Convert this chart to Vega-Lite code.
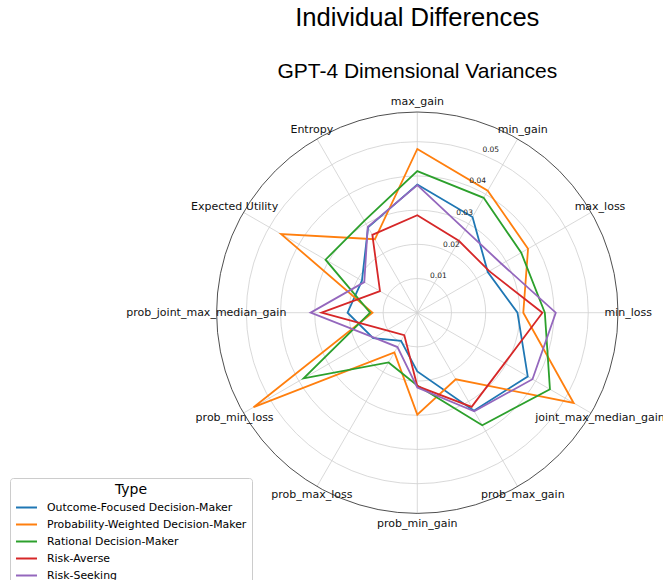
{
  "$schema": "https://vega.github.io/schema/vega-lite/v6.json",
  "width": 401.4,
  "height": 401.4,
  "autosize": {"type": "none"},
  "padding": {"left": 216.6, "top": 112, "right": 45, "bottom": 66.6},
  "background": "white",
  "title": {
    "text": "Individual Differences",
    "subtitle": "GPT-4 Dimensional Variances",
    "anchor": "middle",
    "frame": "group",
    "font": "Liberation Sans",
    "fontSize": 25.6,
    "fontWeight": "normal",
    "color": "black",
    "subtitleFont": "Liberation Sans",
    "subtitleFontSize": 21,
    "subtitleColor": "black",
    "subtitlePadding": 29,
    "offset": 14
  },
  "config": {"view": {"stroke": null}},
  "datasets": {
    "axes": [
      {"metric": "max_gain", "k": 0},
      {"metric": "min_gain", "k": 1},
      {"metric": "max_loss", "k": 2},
      {"metric": "min_loss", "k": 3},
      {"metric": "joint_max_median_gain", "k": 4},
      {"metric": "prob_max_gain", "k": 5},
      {"metric": "prob_min_gain", "k": 6},
      {"metric": "prob_max_loss", "k": 7},
      {"metric": "prob_min_loss", "k": 8},
      {"metric": "prob_joint_max_median_gain", "k": 9},
      {"metric": "Expected Utility", "k": 10},
      {"metric": "Entropy", "k": 11}
    ],
    "rings": [{"r": 0.01}, {"r": 0.02}, {"r": 0.03}, {"r": 0.04}, {"r": 0.05}],
    "ticks": [
      {"v": 0.01, "label": "0.01"},
      {"v": 0.02, "label": "0.02"},
      {"v": 0.03, "label": "0.03"},
      {"v": 0.04, "label": "0.04"},
      {"v": 0.05, "label": "0.05"}
    ],
    "scores": [
      {"Type": "Outcome-Focused Decision-Maker", "metric": "max_gain", "value": 0.0375},
      {"Type": "Outcome-Focused Decision-Maker", "metric": "min_gain", "value": 0.0323},
      {"Type": "Outcome-Focused Decision-Maker", "metric": "max_loss", "value": 0.0238},
      {"Type": "Outcome-Focused Decision-Maker", "metric": "min_loss", "value": 0.0293},
      {"Type": "Outcome-Focused Decision-Maker", "metric": "joint_max_median_gain", "value": 0.0373},
      {"Type": "Outcome-Focused Decision-Maker", "metric": "prob_max_gain", "value": 0.0331},
      {"Type": "Outcome-Focused Decision-Maker", "metric": "prob_min_gain", "value": 0.0172},
      {"Type": "Outcome-Focused Decision-Maker", "metric": "prob_max_loss", "value": 0.0095},
      {"Type": "Outcome-Focused Decision-Maker", "metric": "prob_min_loss", "value": 0.0149},
      {"Type": "Outcome-Focused Decision-Maker", "metric": "prob_joint_max_median_gain", "value": 0.0204},
      {"Type": "Outcome-Focused Decision-Maker", "metric": "Expected Utility", "value": 0.0187},
      {"Type": "Outcome-Focused Decision-Maker", "metric": "Entropy", "value": 0.0288},
      {"Type": "Probability-Weighted Decision-Maker", "metric": "max_gain", "value": 0.0479},
      {"Type": "Probability-Weighted Decision-Maker", "metric": "min_gain", "value": 0.0412},
      {"Type": "Probability-Weighted Decision-Maker", "metric": "max_loss", "value": 0.0374},
      {"Type": "Probability-Weighted Decision-Maker", "metric": "min_loss", "value": 0.031},
      {"Type": "Probability-Weighted Decision-Maker", "metric": "joint_max_median_gain", "value": 0.0528},
      {"Type": "Probability-Weighted Decision-Maker", "metric": "prob_max_gain", "value": 0.0225},
      {"Type": "Probability-Weighted Decision-Maker", "metric": "prob_min_gain", "value": 0.0298},
      {"Type": "Probability-Weighted Decision-Maker", "metric": "prob_max_loss", "value": 0.0134},
      {"Type": "Probability-Weighted Decision-Maker", "metric": "prob_min_loss", "value": 0.0553},
      {"Type": "Probability-Weighted Decision-Maker", "metric": "prob_joint_max_median_gain", "value": 0.0131},
      {"Type": "Probability-Weighted Decision-Maker", "metric": "Expected Utility", "value": 0.046},
      {"Type": "Probability-Weighted Decision-Maker", "metric": "Entropy", "value": 0.0248},
      {"Type": "Rational Decision-Maker", "metric": "max_gain", "value": 0.0414},
      {"Type": "Rational Decision-Maker", "metric": "min_gain", "value": 0.0388},
      {"Type": "Rational Decision-Maker", "metric": "max_loss", "value": 0.0351},
      {"Type": "Rational Decision-Maker", "metric": "min_loss", "value": 0.0373},
      {"Type": "Rational Decision-Maker", "metric": "joint_max_median_gain", "value": 0.0448},
      {"Type": "Rational Decision-Maker", "metric": "prob_max_gain", "value": 0.038},
      {"Type": "Rational Decision-Maker", "metric": "prob_min_gain", "value": 0.0213},
      {"Type": "Rational Decision-Maker", "metric": "prob_max_loss", "value": 0.0168},
      {"Type": "Rational Decision-Maker", "metric": "prob_min_loss", "value": 0.0384},
      {"Type": "Rational Decision-Maker", "metric": "prob_joint_max_median_gain", "value": 0.0138},
      {"Type": "Rational Decision-Maker", "metric": "Expected Utility", "value": 0.031},
      {"Type": "Rational Decision-Maker", "metric": "Entropy", "value": 0.031},
      {"Type": "Risk-Averse", "metric": "max_gain", "value": 0.0285},
      {"Type": "Risk-Averse", "metric": "min_gain", "value": 0.0243},
      {"Type": "Risk-Averse", "metric": "max_loss", "value": 0.0243},
      {"Type": "Risk-Averse", "metric": "min_loss", "value": 0.0366},
      {"Type": "Risk-Averse", "metric": "joint_max_median_gain", "value": 0.0295},
      {"Type": "Risk-Averse", "metric": "prob_max_gain", "value": 0.0318},
      {"Type": "Risk-Averse", "metric": "prob_min_gain", "value": 0.0215},
      {"Type": "Risk-Averse", "metric": "prob_max_loss", "value": 0.0076},
      {"Type": "Risk-Averse", "metric": "prob_min_loss", "value": 0.0103},
      {"Type": "Risk-Averse", "metric": "prob_joint_max_median_gain", "value": 0.028},
      {"Type": "Risk-Averse", "metric": "Expected Utility", "value": 0.0126},
      {"Type": "Risk-Averse", "metric": "Entropy", "value": 0.0263},
      {"Type": "Risk-Seeking", "metric": "max_gain", "value": 0.0373},
      {"Type": "Risk-Seeking", "metric": "min_gain", "value": 0.028},
      {"Type": "Risk-Seeking", "metric": "max_loss", "value": 0.0285},
      {"Type": "Risk-Seeking", "metric": "min_loss", "value": 0.0405},
      {"Type": "Risk-Seeking", "metric": "joint_max_median_gain", "value": 0.0389},
      {"Type": "Risk-Seeking", "metric": "prob_max_gain", "value": 0.0333},
      {"Type": "Risk-Seeking", "metric": "prob_min_gain", "value": 0.0219},
      {"Type": "Risk-Seeking", "metric": "prob_max_loss", "value": 0.0116},
      {"Type": "Risk-Seeking", "metric": "prob_min_loss", "value": 0.0146},
      {"Type": "Risk-Seeking", "metric": "prob_joint_max_median_gain", "value": 0.0312},
      {"Type": "Risk-Seeking", "metric": "Expected Utility", "value": 0.0179},
      {"Type": "Risk-Seeking", "metric": "Entropy", "value": 0.029}
    ]
  },
  "layer": [
    {
      "data": {"name": "rings"},
      "mark": {"type": "point", "shape": "circle", "filled": false, "stroke": "#cfcfcf", "strokeWidth": 0.8, "opacity": 1},
      "encoding": {
        "x": {"datum": 0, "type": "quantitative", "scale": {"domain": [-0.0587, 0.0587], "nice": false, "zero": false}, "axis": null},
        "y": {"datum": 0, "type": "quantitative", "scale": {"domain": [-0.0587, 0.0587], "nice": false, "zero": false}, "axis": null},
        "size": {"field": "r", "type": "quantitative", "legend": null, "scale": {"type": "pow", "exponent": 2, "domain": [0, 0.0587], "range": [0, 161122], "zero": true, "nice": false}}
      }
    },
    {
      "data": {"name": "axes"},
      "transform": [
        {"calculate": "datum.k * PI / 6", "as": "a"},
        {"calculate": "0.0587 * sin(datum.a)", "as": "sx"},
        {"calculate": "0.0587 * cos(datum.a)", "as": "sy"}
      ],
      "mark": {"type": "rule", "stroke": "#cfcfcf", "strokeWidth": 0.8},
      "encoding": {
        "x": {"field": "sx", "type": "quantitative"},
        "y": {"field": "sy", "type": "quantitative"},
        "x2": {"datum": 0},
        "y2": {"datum": 0}
      }
    },
    {
      "data": {"values": [{"r": 0.0587}]},
      "mark": {"type": "point", "shape": "circle", "filled": false, "stroke": "#222222", "strokeWidth": 0.8, "opacity": 1},
      "encoding": {
        "x": {"datum": 0, "type": "quantitative"},
        "y": {"datum": 0, "type": "quantitative"},
        "size": {"field": "r", "type": "quantitative", "legend": null}
      }
    },
    {
      "data": {"name": "scores"},
      "transform": [
        {"lookup": "metric", "from": {"data": {"name": "axes"}, "key": "metric", "fields": ["k"]}},
        {"calculate": "datum.k * PI / 6", "as": "a"},
        {"calculate": "datum.value * sin(datum.a)", "as": "px"},
        {"calculate": "datum.value * cos(datum.a)", "as": "py"}
      ],
      "mark": {"type": "line", "interpolate": "linear-closed", "strokeWidth": 1.8},
      "encoding": {
        "x": {"field": "px", "type": "quantitative"},
        "y": {"field": "py", "type": "quantitative"},
        "order": {"field": "k", "type": "quantitative"},
        "color": {
          "field": "Type",
          "type": "nominal",
          "scale": {
            "domain": ["Outcome-Focused Decision-Maker", "Probability-Weighted Decision-Maker", "Rational Decision-Maker", "Risk-Averse", "Risk-Seeking"],
            "range": ["#1f77b4", "#ff7f0e", "#2ca02c", "#d62728", "#9467bd"]
          },
          "legend": {
            "orient": "none",
            "legendX": -206.6,
            "legendY": 366,
            "title": "Type",
            "titleFont": "DejaVu Sans",
            "titleFontSize": 14,
            "titleFontWeight": "normal",
            "titleColor": "black",
            "titleAnchor": "middle",
            "titlePadding": -1,
            "labelFont": "DejaVu Sans",
            "labelFontSize": 10.9,
            "labelColor": "black",
            "labelLimit": 400,
            "labelOffset": 9,
            "symbolType": "stroke",
            "symbolSize": 440,
            "symbolStrokeWidth": 2,
            "rowPadding": -2,
            "padding": 5,
            "fillColor": "white",
            "strokeColor": "#cccccc",
            "cornerRadius": 3
          }
        }
      }
    },
    {
      "data": {"name": "ticks"},
      "transform": [
        {"calculate": "datum.v * sin(PI / 8)", "as": "tx"},
        {"calculate": "datum.v * cos(PI / 8)", "as": "ty"}
      ],
      "mark": {"type": "text", "font": "DejaVu Sans", "fontSize": 7.5, "color": "#222222", "dx": 8, "dy": -5, "align": "center", "baseline": "middle"},
      "encoding": {
        "x": {"field": "tx", "type": "quantitative"},
        "y": {"field": "ty", "type": "quantitative"},
        "text": {"field": "label", "type": "nominal"}
      }
    },
    {
      "data": {"name": "axes"},
      "transform": [
        {"calculate": "datum.k * PI / 6", "as": "a"},
        {"calculate": "0.0617 * sin(datum.a)", "as": "lx"},
        {"calculate": "0.0617 * cos(datum.a)", "as": "ly"}
      ],
      "mark": {"type": "text", "font": "DejaVu Sans", "fontSize": 11, "color": "#111111", "align": "center", "baseline": "middle"},
      "encoding": {
        "x": {"field": "lx", "type": "quantitative"},
        "y": {"field": "ly", "type": "quantitative"},
        "text": {"field": "metric", "type": "nominal"}
      }
    }
  ]
}
